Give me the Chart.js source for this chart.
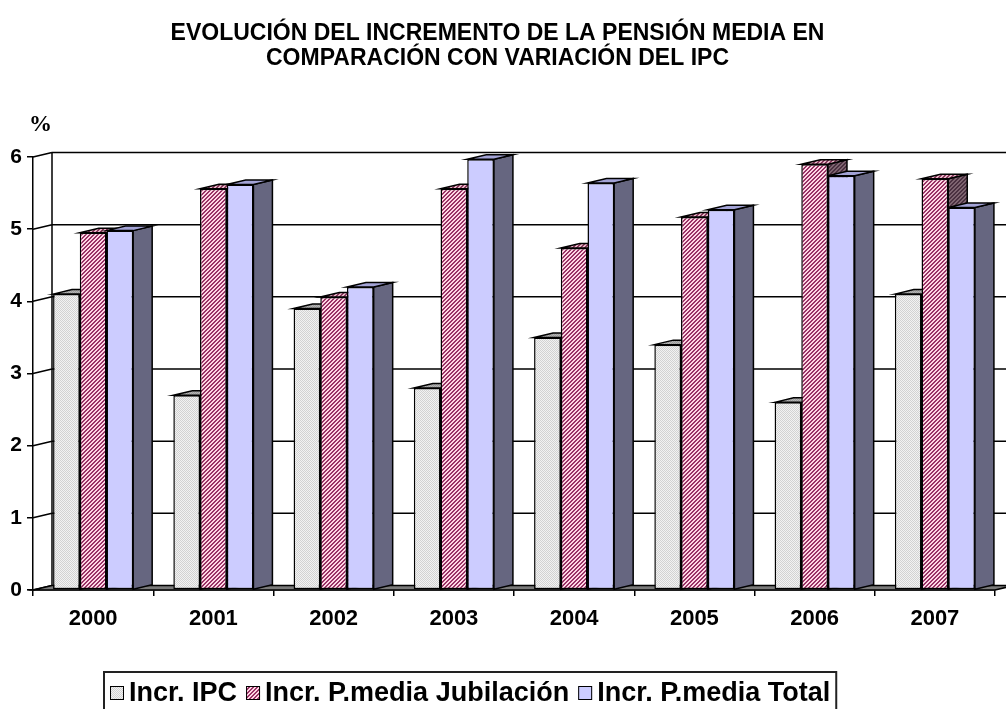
<!DOCTYPE html>
<html>
<head>
<meta charset="utf-8">
<script src="https://cdn.jsdelivr.net/npm/chart.js@4.4.0/dist/chart.umd.min.js"></script>
<style>
  html, body { margin: 0; padding: 0; background: #fff; }
  #wrap { width: 1006px; height: 709px; }
</style>
</head>
<body>
<div id="wrap"><canvas id="grafico" width="1006" height="709"></canvas></div>
<script>
// Datos (%)
const anios = ['2000', '2001', '2002', '2003', '2004', '2005', '2006', '2007'];
const incrIPC = [4.1, 2.7, 3.9, 2.8, 3.5, 3.4, 2.6, 4.1];
const incrJubilacion = [4.95, 5.56, 4.06, 5.56, 4.74, 5.17, 5.9, 5.7];
const incrTotal = [4.98, 5.62, 4.2, 5.97, 5.64, 5.27, 5.74, 5.3];
const ticksY = [0, 1, 2, 3, 4, 5, 6];
const nombresSeries = ['Incr. IPC', 'Incr. P.media Jubilación', 'Incr. P.media Total'];
const titulo = ['EVOLUCIÓN DEL INCREMENTO DE LA PENSIÓN MEDIA EN', 'COMPARACIÓN CON VARIACIÓN DEL IPC'];

// desplazamiento de la profundidad 3D
const DX = 19;
const DY = -4.5;
const FUENTE = '"Liberation Sans", Arial, sans-serif';

// Tramas de relleno
function crearTrama(tam, pintar) {
    const c = document.createElement('canvas');
    c.width = tam;
    c.height = tam;
    const g = c.getContext('2d');
    pintar(g);
    return g.createPattern(c, 'repeat');
}

function tramaPuntos(claro, oscuro) {
    return crearTrama(2, g => {
        g.fillStyle = claro;
        g.fillRect(0, 0, 2, 2);
        g.fillStyle = oscuro;
        g.fillRect(0, 0, 1, 1);
        g.fillRect(1, 1, 1, 1);
    });
}

function tramaRayas(fondo, linea) {
    return crearTrama(4, g => {
        g.fillStyle = fondo;
        g.fillRect(0, 0, 4, 4);
        g.fillStyle = linea;
        for (let i = 0; i < 4; i++) {
            g.fillRect(i, 3 - i, 1, 1);
            g.fillRect((i + 1) % 4, 3 - i, 1, 1);
        }
    });
}

const frente = [tramaPuntos('#f2f2f2', '#d2d2d2'), tramaRayas('#ffd6e4', '#993366'), '#ccccff'];
const techo = [tramaPuntos('#b4b4b4', '#9a9a9a'), tramaRayas('#e8b8c8', '#8a3a5e'), '#a3a3d6'];
const lateral = [tramaPuntos('#808080', '#6a6a6a'), tramaRayas('#7e6470', '#4a3040'), '#666680'];

function poligono(ctx, puntos, relleno) {
    ctx.beginPath();
    ctx.moveTo(puntos[0][0], puntos[0][1]);
    for (let i = 1; i < puntos.length; i++) ctx.lineTo(puntos[i][0], puntos[i][1]);
    ctx.closePath();
    ctx.fillStyle = relleno;
    ctx.fill();
    ctx.stroke();
}

// Pared del fondo, suelo y caras laterales/superiores de las columnas
const efecto3D = {
    id: 'efecto3D',
    beforeDatasetsDraw(chart) {
        const ctx = chart.ctx;
        const area = chart.chartArea;
        const y = chart.scales.y;
        const y0 = y.getPixelForValue(0);
        const yMax = y.getPixelForValue(6);
        ctx.save();
        ctx.strokeStyle = '#000';
        ctx.lineWidth = 1.5;

        // líneas de división en la pared del fondo
        ctx.beginPath();
        ticksY.forEach(v => {
            const py = y.getPixelForValue(v);
            ctx.moveTo(area.left, py);
            ctx.lineTo(area.left + DX, py + DY);
            if (v > 0) {
                ctx.moveTo(area.left + DX, py + DY);
                ctx.lineTo(chart.width, py + DY);
            }
        });
        ctx.moveTo(area.left + DX, yMax + DY);
        ctx.lineTo(area.left + DX, y0 + DY);
        ctx.stroke();

        // suelo
        poligono(ctx, [[area.left, y0], [area.left + DX, y0 + DY], [area.right + DX, y0 + DY], [area.right, y0]], '#7a7a7a');

        // caras laterales y superiores, de izquierda a derecha
        const metas = [0, 1, 2].map(i => chart.getDatasetMeta(i));
        for (let c = 0; c < anios.length; c++) {
            metas.forEach((meta, s) => {
                const bar = meta.data[c];
                const izq = bar.x - bar.width / 2;
                const der = bar.x + bar.width / 2;
                const arriba = bar.y;
                const abajo = bar.base;
                poligono(ctx, [[der, arriba], [der + DX, arriba + DY], [der + DX, abajo + DY], [der, abajo]], lateral[s]);
                poligono(ctx, [[izq, arriba], [izq + DX, arriba + DY], [der + DX, arriba + DY], [der, arriba]], techo[s]);
            });
        }
        ctx.restore();
    },
    afterDraw(chart) {
        const ctx = chart.ctx;
        ctx.save();
        // unidad del eje
        ctx.fillStyle = '#000';
        ctx.font = 'bold 23px "Liberation Serif", serif';
        ctx.textAlign = 'left';
        ctx.textBaseline = 'middle';
        ctx.fillText('%', 29, 125);

        // leyenda
        ctx.font = 'bold 27px ' + FUENTE;
        const caja = 14;
        const sep = 5;
        const hueco = 9;
        const anchos = nombresSeries.map(n => ctx.measureText(n).width);
        let total = 12;
        anchos.forEach(a => { total += caja + sep + a; });
        total += hueco * 2;
        let x = 104;
        const top = 672;
        ctx.lineWidth = 2;
        ctx.strokeStyle = '#222';
        ctx.strokeRect(x, top, total, 60);
        x += 6;
        ctx.lineWidth = 1;
        ctx.strokeStyle = '#000';
        ctx.textBaseline = 'alphabetic';
        nombresSeries.forEach((n, i) => {
            ctx.fillStyle = frente[i];
            ctx.fillRect(x, 686, caja, caja);
            ctx.strokeRect(x + 0.5, 686.5, caja - 1, caja - 1);
            x += caja + sep;
            ctx.fillStyle = '#000';
            ctx.fillText(n, x, 701);
            x += anchos[i] + hueco;
        });
        ctx.restore();
    }
};

const ctx = document.getElementById('grafico').getContext('2d');
const chart = new Chart(ctx, {
    type: 'bar',
    data: {
        labels: anios,
        datasets: [
            { label: nombresSeries[0], data: incrIPC, backgroundColor: frente[0] },
            { label: nombresSeries[1], data: incrJubilacion, backgroundColor: frente[1] },
            { label: nombresSeries[2], data: incrTotal, backgroundColor: frente[2] }
        ]
    },
    options: {
        responsive: false,
        animation: false,
        devicePixelRatio: 1,
        layout: { padding: { left: 0, right: 11, top: 0, bottom: 0 } },
        datasets: {
            bar: {
                barPercentage: 1,
                categoryPercentage: 0.666,
                borderColor: '#000',
                borderWidth: 1.5,
                borderSkipped: false
            }
        },
        plugins: {
            legend: { display: false },
            tooltip: { enabled: false },
            title: {
                display: true,
                text: titulo,
                color: '#000',
                font: { family: FUENTE, size: 23, weight: 'bold', lineHeight: '25px' },
                padding: { top: 21, bottom: 86 }
            }
        },
        scales: {
            x: {
                afterFit(scale) { scale.height = 119; },
                grid: { offset: true, drawOnChartArea: false, drawTicks: true, tickLength: 6, color: '#000', lineWidth: 1.5 },
                border: { display: true, color: '#000', width: 1.5 },
                ticks: { color: '#000', padding: 10, font: { family: FUENTE, size: 22, weight: 'bold' } }
            },
            y: {
                min: 0,
                max: 6,
                afterFit(scale) { scale.width = 33; },
                afterBuildTicks(scale) { scale.ticks = ticksY.map(v => ({ value: v })); },
                grid: { drawOnChartArea: false, drawTicks: true, tickLength: 6, color: '#000', lineWidth: 1.5 },
                border: { display: true, color: '#000', width: 1.5 },
                ticks: { color: '#000', padding: 5, font: { family: FUENTE, size: 21, weight: 'bold' } }
            }
        }
    },
    plugins: [efecto3D]
});
</script>
</body>
</html>
